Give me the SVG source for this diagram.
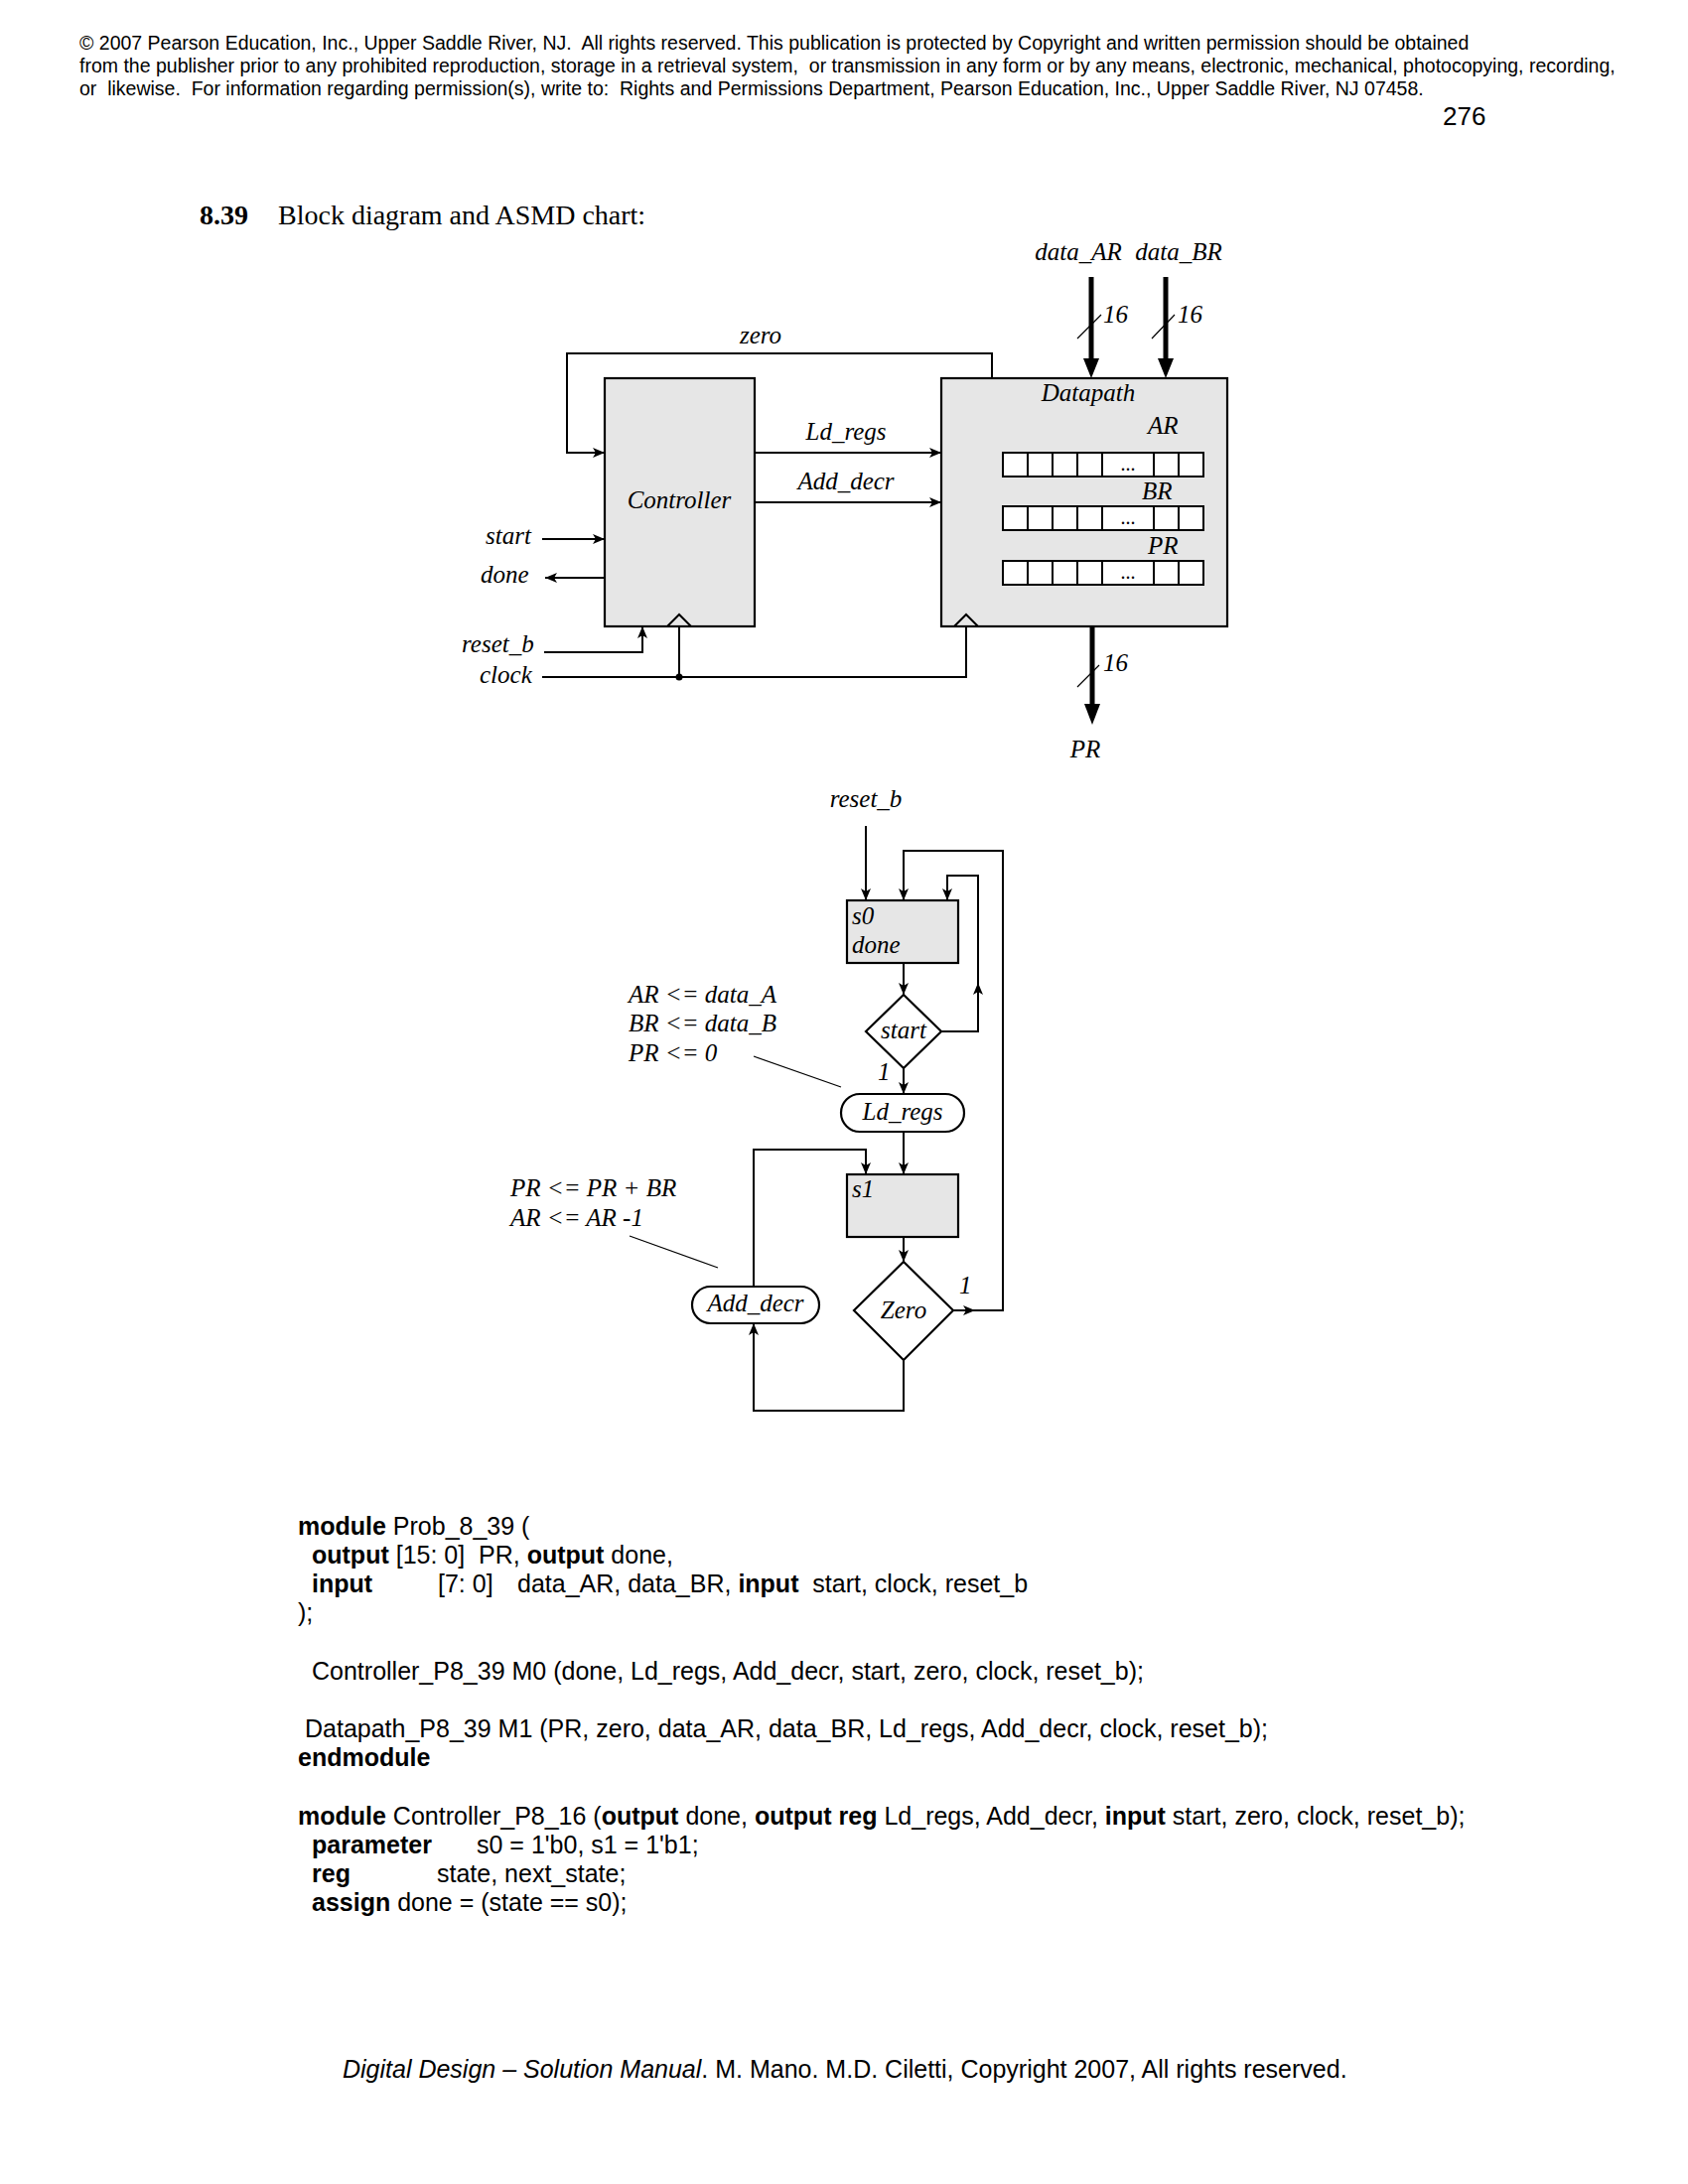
<svg xmlns="http://www.w3.org/2000/svg" width="1700" height="2200" viewBox="0 0 1700 2200">
<style>
.hdr{font-family:"Liberation Sans",Arial,sans-serif;font-size:19.5px;fill:#000;white-space:pre}
.ttl{font-family:"Liberation Serif","Times New Roman",serif;font-size:28px;fill:#000}
.lbl{font-family:"Liberation Serif","Times New Roman",serif;font-style:italic;font-size:25px;fill:#000}
.lblc{font-family:"Liberation Serif","Times New Roman",serif;font-style:italic;font-size:25px;fill:#000;text-anchor:middle}
.dots{font-family:"Liberation Serif","Times New Roman",serif;font-size:20px;fill:#000;text-anchor:middle}
.code{font-family:"Liberation Sans",Arial,sans-serif;font-size:25px;fill:#000;white-space:pre}
.b{font-weight:bold}
.ln{fill:none;stroke:#000;stroke-width:2}
.thin{fill:none;stroke:#000;stroke-width:1.2}
.bus{fill:none;stroke:#000;stroke-width:5}
.box{fill:#e6e6e6;stroke:#000;stroke-width:2.2}
.cell{fill:#fff;stroke:#000;stroke-width:2}
.wbox{fill:#fff;stroke:#000;stroke-width:2.2}
</style>
<defs>
<marker id="ar" viewBox="0 0 12 10" refX="12" refY="5" markerWidth="12" markerHeight="10" markerUnits="userSpaceOnUse" orient="auto">
<path d="M0,0 L12,5 L0,10 L3,5 Z" fill="#000"/>
</marker>
</defs>
<rect width="1700" height="2200" fill="#fff"/>

<g id="header">
<text class="hdr" x="80" y="50">© 2007 Pearson Education, Inc., Upper Saddle River, NJ.  All rights reserved. This publication is protected by Copyright and written permission should be obtained</text>
<text class="hdr" x="80" y="73">from the publisher prior to any prohibited reproduction, storage in a retrieval system,  or transmission in any form or by any means, electronic, mechanical, photocopying, recording,</text>
<text class="hdr" x="80" y="96">or  likewise.  For information regarding permission(s), write to:  Rights and Permissions Department, Pearson Education, Inc., Upper Saddle River, NJ 07458.</text>
<text class="hdr" x="1453" y="126" style="font-size:26px">276</text>
</g>

<g id="title">
<text class="ttl b" x="201" y="226">8.39</text>
<text class="ttl" x="280" y="226">Block diagram and ASMD chart:</text>
</g>

<g id="controller">
<rect class="box" x="609" y="381" width="151" height="250"/>
<path class="ln" d="M672,631 L684,619 L696,631"/>
<text class="lblc" x="684" y="512">Controller</text>
</g>

<g id="datapath">
<rect class="box" x="948" y="381" width="288" height="250"/>
<path class="ln" d="M961,631 L973,619 L985,631"/>
<text class="lblc" x="1096" y="404">Datapath</text>
<text class="lbl" x="1156" y="437">AR</text>
<text class="lbl" x="1150" y="503">BR</text>
<text class="lbl" x="1156" y="558">PR</text>
<g id="reg_AR">
<rect class="cell" x="1010" y="456" width="202" height="24"/>
<path class="ln" d="M1035,456V480M1060,456V480M1085,456V480M1110,456V480M1162,456V480M1187,456V480"/>
<text class="dots" x="1136" y="474">...</text>
</g>
<g id="reg_BR">
<rect class="cell" x="1010" y="510" width="202" height="24"/>
<path class="ln" d="M1035,510V534M1060,510V534M1085,510V534M1110,510V534M1162,510V534M1187,510V534"/>
<text class="dots" x="1136" y="528">...</text>
</g>
<g id="reg_PR">
<rect class="cell" x="1010" y="565" width="202" height="24"/>
<path class="ln" d="M1035,565V589M1060,565V589M1085,565V589M1110,565V589M1162,565V589M1187,565V589"/>
<text class="dots" x="1136" y="583">...</text>
</g>
</g>

<g id="block-labels">
<text class="lblc" x="1086" y="262">data_AR</text>
<text class="lblc" x="1187" y="262">data_BR</text>
<text class="lbl" x="1111" y="325">16</text>
<text class="lbl" x="1186" y="325">16</text>
<text class="lbl" x="1111" y="676">16</text>
<text class="lblc" x="1093" y="763">PR</text>
<text class="lblc" x="766" y="346">zero</text>
<text class="lblc" x="852" y="443">Ld_regs</text>
<text class="lblc" x="852" y="493">Add_decr</text>
<text class="lbl" x="489" y="548">start</text>
<text class="lbl" x="484" y="587">done</text>
<text class="lbl" x="465" y="657">reset_b</text>
<text class="lbl" x="483" y="688">clock</text>
</g>

<g id="block-connectors">
<path class="bus" d="M1099,279 V364"/>
<path d="M1091,361 L1107,361 L1099,381 Z" fill="#000"/>
<path class="bus" d="M1174,279 V364"/>
<path d="M1166,361 L1182,361 L1174,381 Z" fill="#000"/>
<path class="bus" d="M1100,631 V712"/>
<path d="M1092,709 L1108,709 L1100,730 Z" fill="#000"/>
<path class="thin" d="M1085,341 L1109,317 M1160,341 L1183,317 M1085,692 L1107,670"/>
<path class="ln" d="M999,381 V356 H571 V456 H609" marker-end="url(#ar)"/>
<path class="ln" d="M760,456 H948" marker-end="url(#ar)"/>
<path class="ln" d="M760,506 H948" marker-end="url(#ar)"/>
<path class="ln" d="M546,543 H609" marker-end="url(#ar)"/>
<path class="ln" d="M609,582 H549" marker-end="url(#ar)"/>
<path class="ln" d="M548,657 H647 V631" marker-end="url(#ar)"/>
<path class="ln" d="M546,682 H973 V631"/>
<path class="ln" d="M684,682 V631"/>
<circle cx="684" cy="682" r="3.5" fill="#000"/>
</g>

<g id="s0">
<rect class="box" x="853" y="907" width="112" height="63"/>
<text class="lbl" x="858" y="931">s0</text>
<text class="lbl" x="858" y="960">done</text>
</g>
<g id="start_dec">
<path class="wbox" d="M910,1002 L948,1039 L910,1076 L872,1039 Z"/>
<text class="lblc" x="910" y="1046">start</text>
</g>
<g id="ld_regs">
<rect class="wbox" x="847" y="1102" width="124" height="38" rx="19" ry="19"/>
<text class="lblc" x="909" y="1128">Ld_regs</text>
</g>
<g id="s1">
<rect class="box" x="853" y="1183" width="112" height="63"/>
<text class="lbl" x="858" y="1206">s1</text>
</g>
<g id="zero_dec">
<path class="wbox" d="M910,1271 L960,1320 L910,1370 L860,1320 Z"/>
<text class="lblc" x="910" y="1328">Zero</text>
</g>
<g id="add_decr">
<rect class="wbox" x="697" y="1296" width="128" height="37" rx="18.5" ry="18.5"/>
<text class="lblc" x="761" y="1321">Add_decr</text>
</g>

<g id="asmd-labels">
<text class="lblc" x="872" y="813">reset_b</text>
<text class="lbl" x="884" y="1088">1</text>
<text class="lbl" x="966" y="1303">1</text>
<text class="lbl" x="633" y="1010">AR &lt;= data_A</text>
<text class="lbl" x="633" y="1039">BR &lt;= data_B</text>
<text class="lbl" x="633" y="1069">PR &lt;= 0</text>
<text class="lbl" x="514" y="1205">PR &lt;= PR + BR</text>
<text class="lbl" x="514" y="1235">AR &lt;= AR -1</text>
</g>

<g id="asmd-connectors">
<path class="ln" d="M872,832 V907" marker-end="url(#ar)"/>
<path class="ln" d="M910,970 V1002" marker-end="url(#ar)"/>
<path class="ln" d="M948,1039 H985 V990" marker-end="url(#ar)"/>
<path class="ln" d="M985,992 V882 H954 V907" marker-end="url(#ar)"/>
<path class="ln" d="M910,1076 V1102" marker-end="url(#ar)"/>
<path class="ln" d="M910,1140 V1183" marker-end="url(#ar)"/>
<path class="ln" d="M910,1246 V1271" marker-end="url(#ar)"/>
<path class="ln" d="M960,1320 H982" marker-end="url(#ar)"/>
<path class="ln" d="M980,1320 H1010 V857 H910 V907" marker-end="url(#ar)"/>
<path class="ln" d="M910,1370 V1421 H759 V1333" marker-end="url(#ar)"/>
<path class="ln" d="M759,1296 V1158 H872 V1183" marker-end="url(#ar)"/>
<path class="thin" d="M759,1064 L847,1095"/>
<path class="thin" d="M634,1245 L723,1277"/>
</g>

<g id="code">
<text class="code" x="300" y="1546"><tspan class="b">module</tspan> Prob_8_39 (</text>
<text class="code" x="314" y="1575"><tspan class="b">output</tspan> [15: 0]  PR, <tspan class="b">output</tspan> done,</text>
<text class="code" x="314" y="1604"><tspan class="b">input</tspan><tspan x="441">[7: 0]</tspan><tspan x="521">data_AR, data_BR, </tspan><tspan class="b">input</tspan>  start, clock, reset_b</text>
<text class="code" x="300" y="1633">);</text>
<text class="code" x="314" y="1692">Controller_P8_39 M0 (done, Ld_regs, Add_decr, start, zero, clock, reset_b);</text>
<text class="code" x="307" y="1750">Datapath_P8_39 M1 (PR, zero, data_AR, data_BR, Ld_regs, Add_decr, clock, reset_b);</text>
<text class="code b" x="300" y="1779">endmodule</text>
<text class="code" x="300" y="1838"><tspan class="b">module</tspan> Controller_P8_16 (<tspan class="b">output</tspan> done, <tspan class="b">output reg</tspan> Ld_regs, Add_decr, <tspan class="b">input</tspan> start, zero, clock, reset_b);</text>
<text class="code" x="314" y="1867"><tspan class="b">parameter</tspan><tspan x="480">s0 = 1'b0, s1 = 1'b1;</tspan></text>
<text class="code" x="314" y="1896"><tspan class="b">reg</tspan><tspan x="440">state, next_state;</tspan></text>
<text class="code" x="314" y="1925"><tspan class="b">assign</tspan> done = (state == s0);</text>
</g>

<g id="footer">
<text class="code" x="345" y="2093"><tspan font-style="italic">Digital Design – Solution Manual</tspan>. M. Mano. M.D. Ciletti, Copyright 2007, All rights reserved.</text>
</g>
</svg>
